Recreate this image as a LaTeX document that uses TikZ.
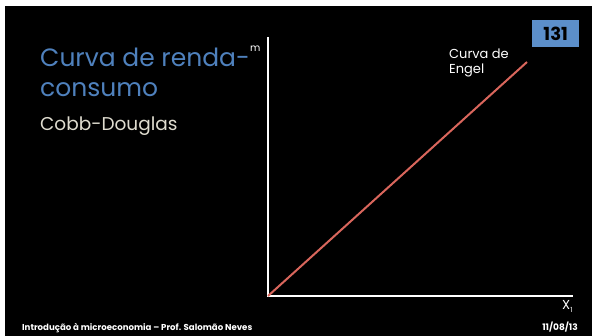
\documentclass[tikz,border=0pt]{standalone}
\usepackage{fontspec}
\setmainfont{Poppins}
\definecolor{titleblue}{RGB}{79,129,189}
\definecolor{boxblue}{RGB}{92,143,202}
\definecolor{engelred}{RGB}{217,102,92}
\definecolor{subgray}{RGB}{224,221,208}
\begin{document}
\begin{tikzpicture}[x=1pt,y=-1pt,
  axis/.style={draw=white,line width=1.8pt},
  engel/.style={draw=engelred,line width=2pt},
  lbl/.style={text=white,inner sep=0pt,anchor=base west,font=\fontsize{10}{12}\selectfont},
  title/.style={text=titleblue,inner sep=0pt,anchor=base west,font=\fontsize{25}{29}\selectfont},
  foot/.style={text=white,inner sep=0pt,font=\bfseries\fontsize{8.6}{10}\selectfont}]
\useasboundingbox (0,0) rectangle (592,336);
\fill[white] (0,0) rectangle (592,336);
\fill[black] (5,6) rectangle (592,336);
% axes
\coordinate (O) at (268,296);
\coordinate (ytop) at (268,37);
\coordinate (xend) at (573,296);
\coordinate (eng) at (527,62);
\draw[axis] (ytop) -- (O) -- (xend);
\draw[engel] (O) -- (eng);
% title
\node[title] (t1) at (40,67) {Curva de renda-};
\node[title] (t2) at (40,97) {consumo};
\node[inner sep=0pt,anchor=base west,text=subgray,font=\fontsize{18.5}{22}\selectfont] (t3) at (40,131) {Cobb-Douglas};
\node[lbl,font=\fontsize{10}{11}\selectfont] (m) at (250,52) {m};
% Engel label
\node[lbl,align=left,anchor=north west,font=\fontsize{13}{14.5}\selectfont] (el) at (449,49) {Curva de\\Engel};
% page number box
\node[fill=boxblue,minimum width=47pt,minimum height=27pt,inner sep=0pt,anchor=north west,text=black,font=\bfseries\fontsize{18}{20}\selectfont] (pg) at (532,20) {131};
% X1
\node[lbl,font=\fontsize{13}{15}\selectfont] (x1) at (562,310) {X\raisebox{-3pt}{\fontsize{7}{8}\selectfont 1}};
% footer
\node[foot,anchor=base west] (f1) at (22,331) {Introdução à microeconomia – Prof. Salomão Neves};
\node[foot,anchor=base east,font=\bfseries\fontsize{9}{10}\selectfont] (f2) at (578,331) {11/08/13};
\end{tikzpicture}
\end{document}
